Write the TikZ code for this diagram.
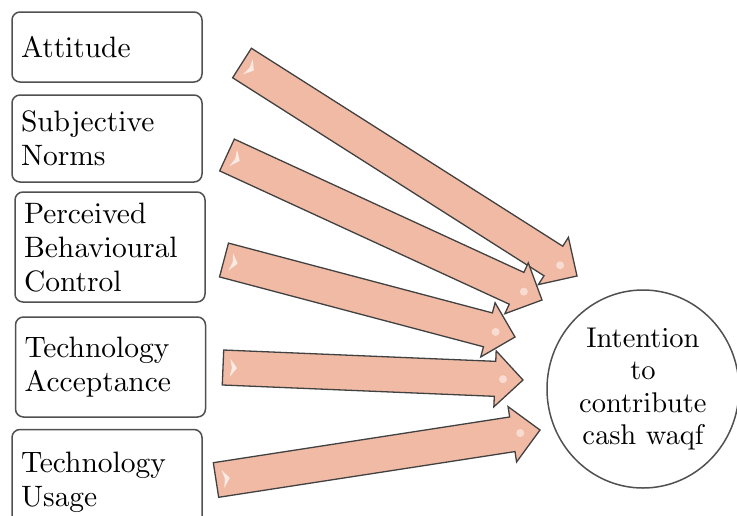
\documentclass[tikz,border=0pt]{standalone}
\usetikzlibrary{calc,shapes.geometric}
\font\labelrm=cmr10 at 29.5pt
\font\goalrm=cmr10 at 28.5pt
\definecolor{arrowfill}{RGB}{241,186,165}
\definecolor{edgegray}{RGB}{65,65,65}
\definecolor{boxgray}{RGB}{80,80,80}
\newcommand\blockarr[2]{%
  \coordinate (hb) at ($(#2)!28pt!(#1)$);
  \draw[arrowbody] ($(#1)!17.5pt!90:(#2)$) -- ($(hb)!17.5pt!90:(#2)$) -- ($(hb)!28pt!90:(#2)$) -- (#2)
     -- ($(hb)!28pt!-90:(#2)$) -- ($(hb)!17.5pt!-90:(#2)$) -- ($(#1)!17.5pt!-90:(#2)$) -- cycle;
  \coordinate (gl) at ($(#1)!7pt!(#2)$);
  \fill[white, opacity=.7] ($(gl)!9pt!90:(#2)$) -- ($(gl)!7pt!(#2)$) -- ($(gl)!9pt!-90:(#2)$) -- ($(gl)!2pt!(#2)$) -- cycle;
  \fill[white, opacity=.5] ($(#2)!20pt!(#1)$) circle (4pt);
}
\tikzset{
  arrowbody/.style={draw=edgegray, line width=1.3pt, fill=arrowfill},
  factor/.style={draw=boxgray, line width=1.5pt, rounded corners=8pt, fill=white,
    minimum width=190pt, text width=172pt, inner xsep=9pt, align=left,
    font={\fontsize{29.5}{34}\selectfont\labelrm}},
  goalnode/.style={ellipse, draw=boxgray, line width=1.5pt, minimum width=192pt, minimum height=198pt,
    inner sep=0pt, align=center, font={\fontsize{28.5}{32.5}\selectfont\goalrm}}
}
\begin{document}
\begin{tikzpicture}[x=1pt,y=-1pt]
\useasboundingbox (0,0) rectangle (737,515);
\clip (0,0) rectangle (737,515);
\fill[white] (0,0) rectangle (737,515);

\coordinate (t1) at (242,63);   \coordinate (p1) at (577,276);
\coordinate (t2) at (227,155);  \coordinate (p2) at (542,300);
\coordinate (t3) at (224,260);  \coordinate (p3) at (515,337);
\coordinate (t4) at (223,367.5);\coordinate (p4) at (523,380);
\coordinate (t5) at (216,480);  \coordinate (p5) at (540,430);

\blockarr{t1}{p1}
\blockarr{t2}{p2}
\blockarr{t3}{p3}
\blockarr{t4}{p4}
\blockarr{t5}{p5}

\node[factor, minimum height=70pt]  (att) at (107,47)    {Attitude};
\node[factor, minimum height=87pt]  (sn)  at (107,138.5) {Subjective\\Norms};
\node[factor, minimum height=110pt] (pbc) at (110,247)   {Perceived\\Behavioural\\Control};
\node[factor, minimum height=100pt] (ta)  at (110.5,367) {Technology\\Acceptance};
\node[factor, minimum height=105pt] (tu)  at (107,482)   {Technology\\Usage};

\node[goalnode] (goal) at (643,389) {Intention\\to\\contribute\\cash waqf};
\end{tikzpicture}
\end{document}
